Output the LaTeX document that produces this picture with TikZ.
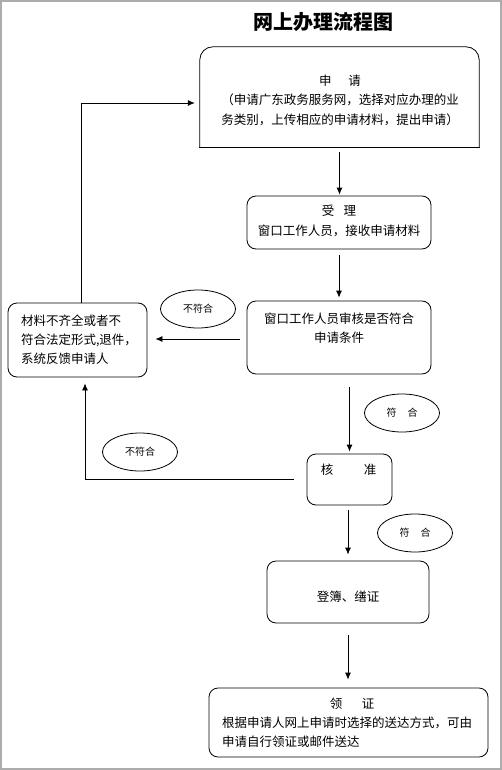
\documentclass[tikz,border=0pt]{standalone}
\usepackage{fontspec}
\setmainfont{Noto Sans CJK SC}
\usetikzlibrary{shapes.geometric,arrows.meta,calc}

\tikzset{
	box/.style={draw, rounded corners=9pt, line width=0.8pt, inner sep=0pt},
	oval/.style={draw, ellipse, line width=0.8pt, minimum width=75pt, minimum height=38pt, inner sep=0pt, font=\fontsize{10}{12}\selectfont},
	txt/.style={align=center, inner sep=0pt, font=\fontsize{12.5}{19.5}\selectfont},
	arr/.style={-{Latex[length=7pt,width=6pt]}, line width=0.8pt},
}

\begin{document}
\begin{tikzpicture}[x=1pt,y=-1pt]
					\useasboundingbox (0,0) rectangle (502,770);
					%FRAME
					\draw[gray!65, line width=1.5pt] (1,1) rectangle (501,769);
					\node[font=\fontsize{20}{24}\selectfont\bfseries] (title) at (323,22) {网上办理流程图};
					
					%BOXES
					\node[minimum width=279pt, minimum height=100pt] (shenqing) at (339.5,97) {};
					\draw[line width=0.8pt, rounded corners=13pt] (shenqing.south west) -- (shenqing.north west) -- (shenqing.north east) -- (shenqing.south east);
					\draw[line width=0.8pt, line cap=rect] (shenqing.south west) -- (shenqing.south east);
					\node[txt] (shenqing-t) at (340,100) {申\hspace{17pt}请\\（申请广东政务服务网，选择对应办理的业\\务类别，上传相应的申请材料，提出申请）};
					
					\node[box, minimum width=184pt, minimum height=53pt] (shouli) at (339,222.5) {};
					\node[txt] (shouli-t) at (339,221) {受\hspace{9.5pt}理\\窗口工作人员，接收申请材料};
					
					\node[box, minimum width=184pt, minimum height=73pt] (shenhe) at (339,337.5) {};
					\node[txt] (shenhe-t) at (339,328) {窗口工作人员审核是否符合\\申请条件};
					
					\node[box, txt, align=left, text width=113pt, inner xsep=13pt, minimum height=74pt, font=\fontsize{12.5}{19}\selectfont] (bufu) at (77.5,340) {材料不齐全或者不\\符合法定形式,退件，\\系统反馈申请人};
					
					\node[box, minimum width=85pt, minimum height=51pt] (hezhun) at (349.5,479.5) {};
					\node[txt] (hezhun-t) at (348.5,470) {核\hspace{30.5pt}准};
					
					\node[box, minimum width=162pt, minimum height=62pt] (dengbu) at (348,592) {};
					\node[txt] (dengbu-t) at (348,597) {登簿、缮证};
					
					\node[box, minimum width=279pt, minimum height=69pt] (lingzheng) at (348.5,722.5) {};
					\node[txt] (lingzheng-t) at (352,704) {领\hspace{19.5pt}证};
					\node[txt, align=left, anchor=west, font=\fontsize{12.5}{19}\selectfont] (lingzheng-b) at (222,732.5) {根据申请人网上申请时选择的送达方式，可由\\申请自行领证或邮件送达};
					
					%OVALS
					\node[oval] (bufu-o1) at (198,309) {不符合};
					\node[oval] (fuhe-o1) at (402,413) {符\hspace{11pt}合};
					\node[oval] (bufu-o2) at (140,452) {不符合};
					\node[oval] (fuhe-o2) at (415,533) {符\hspace{11pt}合};
					
					%ARROWS
					\draw[arr, shorten <=5pt, shorten >=1pt] (shenqing.south) -- (shenqing.south |- shouli.north);
					\draw[arr, shorten <=6pt, shorten >=3pt] (shouli.south) -- (shenhe.north);
					\draw[arr, shorten <=7pt, shorten >=8pt] ([yshift=-1.5pt]shenhe.west) -- ([yshift=-1.5pt]shenhe.west -| bufu.east);
					\draw[arr, shorten >=5pt] ([xshift=3.5pt]bufu.north) |- ([yshift=-6pt]shenqing.west);
					\draw[arr, shorten <=13pt, shorten >=2pt] (hezhun.north |- shenhe.south) -- (hezhun.north);
					\draw[arr, shorten <=13pt, shorten >=6pt] (hezhun.west) -| ([xshift=7.5pt]bufu.south);
					\draw[arr, shorten <=5pt, shorten >=6pt] (dengbu.north |- hezhun.south) -- (dengbu.north);
					\draw[arr, shorten <=12pt, shorten >=8pt] (dengbu.south) -- (dengbu.south |- lingzheng.north);
					
				  \end{tikzpicture}
\end{document}
